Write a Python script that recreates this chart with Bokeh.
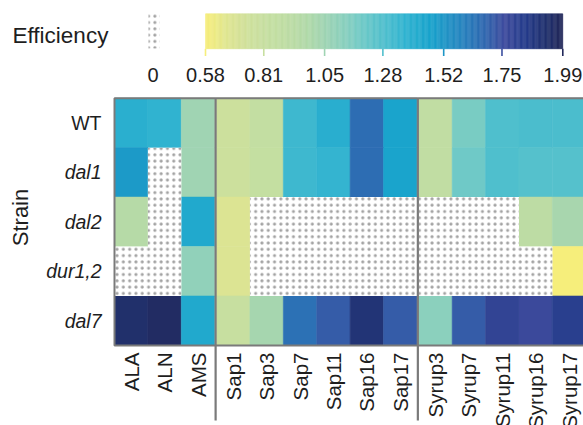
import numpy as np
from bokeh.plotting import figure
from bokeh.models import Range1d, ColumnDataSource, LinearColorMapper
from bokeh.transform import transform
from bokeh.core.properties import value
from bokeh.embed import file_html
from bokeh.resources import INLINE

# ---------------- data ----------------
strains = ["WT", "dal1", "dal2", "dur1,2", "dal7"]
strain_style = ["normal", "italic", "italic", "italic", "italic"]
conditions = ["ALA", "ALN", "AMS",
              "Sap1", "Sap3", "Sap7", "Sap11", "Sap16", "Sap17",
              "Syrup3", "Syrup7", "Syrup11", "Syrup16", "Syrup17"]
condition_group = [0, 0, 0, 1, 1, 1, 1, 1, 1, 2, 2, 2, 2, 2]

# efficiency per strain (0 = not measured, drawn dotted)
eff_WT    = [1.39, 1.37, 1.05, 0.77, 0.84, 1.33, 1.40, 1.66, 1.46, 0.87, 1.17, 1.29, 1.30, 1.30]
eff_dal1  = [1.50, 0,    1.05, 0.77, 0.83, 1.33, 1.36, 1.66, 1.46, 0.87, 1.20, 1.29, 1.27, 1.27]
eff_dal2  = [0.95, 0,    1.43, 0.68, 0,    0,    0,    0,    0,    0,    0,    0,    0.91, 1.02]
eff_dur12 = [0,    0,    1.10, 0.68, 0,    0,    0,    0,    0,    0,    0,    0,    0,    0.58]
eff_dal7  = [1.93, 1.96, 1.43, 0.81, 1.03, 1.65, 1.71, 1.90, 1.71, 1.12, 1.71, 1.80, 1.77, 1.83]
eff_rows = [eff_WT, eff_dal1, eff_dal2, eff_dur12, eff_dal7]

cbar_ticks = [0.58, 0.81, 1.05, 1.28, 1.52, 1.75, 1.99]
cbar_tick_labels = ["0.58", "0.81", "1.05", "1.28", "1.52", "1.75", "1.99"]
missing_label = "0"
legend_title = "Efficiency"
y_title = "Strain"

# colour scale stops (value, colour)
stop_vals = [0.58, 0.659, 0.738, 0.813, 0.915, 0.994, 1.05, 1.132, 1.192, 1.286,
             1.369, 1.468, 1.586, 1.665, 1.764, 1.843, 1.922, 1.99]
stop_cols = ["#f6ee7b", "#e0e690", "#d0e09b", "#c6dfa1", "#bcdca4", "#aed8aa", "#a0d4b3",
             "#88cfbe", "#72cac6", "#50bfcd", "#30b3d0", "#18a3cc", "#2686c0", "#2d6db3",
             "#3e4b9d", "#253c8b", "#21316f", "#22295a"]

# ---------------- palette ----------------
def hex2rgb(h):
    h = h.lstrip("#")
    return [int(h[i:i + 2], 16) for i in (0, 2, 4)]

vmin, vmax = cbar_ticks[0], cbar_ticks[-1]
grid = np.linspace(vmin, vmax, 256)
rgb = np.array([hex2rgb(c) for c in stop_cols], dtype=float)
chan = [np.interp(grid, stop_vals, rgb[:, k]) for k in range(3)]
palette = ["#%02x%02x%02x" % (int(round(r)), int(round(g)), int(round(b)))
           for r, g, b in zip(*chan)]
mapper = LinearColorMapper(palette=palette, low=vmin, high=vmax)

# ---------------- layout ----------------
W, H = 583, 425
HM_LEFT, COL_W = 114.0, 33.4
HM_TOP, ROW_H = 97.7, 49.46
GAP = 0.055
CB_LEFT, CB_SCALE = 205.0, 253.4

p = figure(width=W, height=H, output_backend="svg", toolbar_location=None,
           x_range=Range1d(-HM_LEFT / COL_W, (W - HM_LEFT) / COL_W),
           y_range=Range1d(start=(H - HM_TOP) / ROW_H, end=-HM_TOP / ROW_H),
           x_axis_location=None, y_axis_location=None, min_border=0)
p.extra_x_ranges = {"px": Range1d(0, W),
                    "cb": Range1d(vmin - CB_LEFT / CB_SCALE, vmin + (W - CB_LEFT) / CB_SCALE)}
p.extra_y_ranges = {"px": Range1d(start=H, end=0)}
p.grid.visible = False
p.outline_line_color = None
p.background_fill_color = "white"
p.border_fill_color = "white"

FONT = value("Liberation Sans")
TXT = "#1e1e1e"
HATCH = dict(hatch_pattern="dot", hatch_color="#a3a3a3", hatch_scale=6.3, hatch_weight=1.0)

col_left = [i + GAP * g for i, g in enumerate(condition_group)]
col_center = [c + 0.5 for c in col_left]

xs, ys, vs, mx, my = [], [], [], [], []
for r, row in enumerate(eff_rows):
    for c, v in enumerate(row):
        if v > 0:
            xs.append(col_center[c]); ys.append(r + 0.5); vs.append(v)
        else:
            mx.append(col_center[c]); my.append(r + 0.5)

src = ColumnDataSource(dict(x=xs, y=ys, v=vs))
p.rect(x="x", y="y", width=1, height=1, source=src,
       fill_color=transform("v", mapper), line_color=transform("v", mapper), line_width=0.6)
p.rect(x=mx, y=my, width=1.0, height=1.0, fill_color="white", line_color=None, **HATCH)

total_w = len(conditions) + GAP * max(condition_group)
p.rect(x=[total_w / 2], y=[len(strains) / 2], width=total_w, height=len(strains),
       fill_color=None, line_color="#7a7a7a", line_width=2)
sep_x = [col_left[i] - GAP / 2 for i in range(1, len(conditions))
         if condition_group[i] != condition_group[i - 1]]
p.segment(x0=sep_x, y0=[0] * len(sep_x), x1=sep_x, y1=[len(strains) + 75 / ROW_H] * len(sep_x),
          line_color="#7a7a7a", line_width=2.2)

# column labels
p.text(x=col_center, y=[len(strains) + 7 / ROW_H] * len(conditions), text=conditions,
       angle=np.pi / 2, text_align="right", text_baseline="middle",
       text_font=FONT, text_font_size="20.5px", text_color=TXT)
# row labels
p.text(x=[101] * len(strains), y=[r + 0.5 for r in range(len(strains))], text=strains,
       text_font_style=strain_style, x_range_name="px",
       text_align="right", text_baseline="middle",
       text_font=FONT, text_font_size="19.5px", text_color=TXT)
p.text(x=[20], y=[217], text=[y_title], angle=np.pi / 2, x_range_name="px", y_range_name="px",
       text_align="center", text_baseline="middle",
       text_font=FONT, text_font_size="22px", text_color=TXT)

# colour bar
edges = np.linspace(vmin, vmax, 300)
mids = (edges[:-1] + edges[1:]) / 2
cb_src = ColumnDataSource(dict(l=edges[:-1], r=edges[1:], m=mids))
p.quad(left="l", right="r", top=13.3, bottom=48.3, source=cb_src,
       fill_color=transform("m", mapper), line_color=transform("m", mapper), line_width=0.5,
       x_range_name="cb", y_range_name="px")
tick_src = ColumnDataSource(dict(t=cbar_ticks, lab=cbar_tick_labels))
p.segment(x0="t", y0=48.3, x1="t", y1=55.5, source=tick_src,
          line_color=transform("t", mapper), line_width=1.6,
          x_range_name="cb", y_range_name="px")
p.text(x="t", y=74, text="lab", source=tick_src, x_range_name="cb", y_range_name="px",
       text_align="center", text_baseline="middle",
       text_font=FONT, text_font_size="20px", text_color=TXT)
p.quad(left=[148], right=[159], top=[12], bottom=[48], fill_color="white", line_color=None,
       x_range_name="px", y_range_name="px", **HATCH)
p.text(x=[152.5], y=[74], text=[missing_label], x_range_name="px", y_range_name="px",
       text_align="center", text_baseline="middle",
       text_font=FONT, text_font_size="20px", text_color=TXT)
p.text(x=[12], y=[35], text=[legend_title], x_range_name="px", y_range_name="px",
       text_align="left", text_baseline="middle",
       text_font=FONT, text_font_size="22.5px", text_color=TXT)

open("out.html", "w").write(file_html(p, INLINE))
